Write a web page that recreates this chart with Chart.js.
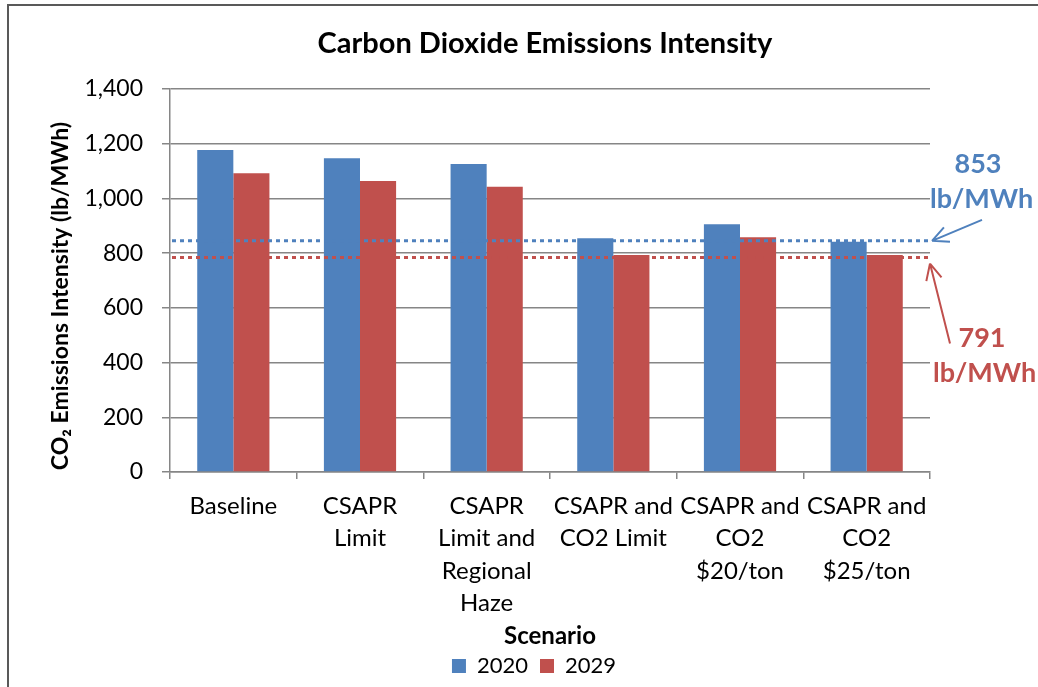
<!DOCTYPE html>
<html><head><meta charset="utf-8">
<script src="https://cdn.jsdelivr.net/npm/chart.js@4"></script>
<style>html,body{margin:0;padding:0;background:#fff}#wrap{width:1038px;height:687px;position:relative}</style>
</head><body><div id="wrap"><canvas id="c"></canvas></div>
<script>
// ---- data ----
const categories = [['Baseline'], ['CSAPR', 'Limit'], ['CSAPR', 'Limit and', 'Regional', 'Haze'], ['CSAPR and', 'CO2 Limit'], ['CSAPR and', 'CO2', '$20/ton'], ['CSAPR and', 'CO2', '$25/ton']];
const seriesNames = ['2020', '2029'];
const values2020 = [1177, 1147, 1126, 854, 906, 842];
const values2029 = [1092, 1064, 1043, 793, 858, 793];
const refLineValues = [845, 784];
const refLabelNumbers = ['853', '791'];
const refLabelUnit = 'lb/MWh';
const yTickLabels = ['0', '200', '400', '600', '800', '1,000', '1,200', '1,400'];
const chartTitle = 'Carbon Dioxide Emissions Intensity';
const yTitle = 'CO\u2082 Emissions Intensity (lb/MWh)';
const xTitle = 'Scenario';

const BLUE = '#4F81BD', RED = '#C0504D', GRID = '#868686';
const FONT = 'Lato';

const overlay = {
  id: 'overlay',
  afterLayout(chart) {
    const t = chart.titleBlock;
    const dxT = 545 - (t.left + t.right) / 2; t.left += dxT; t.right += dxT;
    const l = chart.legend;
    const dxL = 534 - (l.left + l.right) / 2; l.left += dxL; l.right += dxL;
  },
  afterDatasetsDraw(chart) {
    const {ctx, chartArea: a, scales: {y}} = chart;
    const cols = [BLUE, RED];
    ctx.save();
    ctx.lineWidth = 3;
    ctx.setLineDash([4, 4]);
    refLineValues.forEach((v, i) => {
      const py = y.getPixelForValue(v);
      ctx.strokeStyle = cols[i];
      ctx.beginPath(); ctx.moveTo(a.left + 2, py); ctx.lineTo(a.right - 2, py); ctx.stroke();
    });
    ctx.restore();
  },
  afterDraw(chart) {
    const {ctx, chartArea: a, scales: {y}} = chart;
    ctx.save();
    // chart frame (left and top edges visible)
    ctx.strokeStyle = '#595959'; ctx.lineWidth = 2;
    ctx.beginPath(); ctx.moveTo(8, 690); ctx.lineTo(8, 5); ctx.lineTo(1040, 5); ctx.stroke();
    // y axis title (rotated)
    ctx.fillStyle = '#000';
    ctx.translate(61, 296);
    ctx.rotate(-Math.PI / 2);
    ctx.textBaseline = 'middle'; ctx.textAlign = 'center';
    ctx.font = 'bold 23px ' + FONT;
    ctx.fillText(yTitle, 0, 0);
    ctx.setTransform(1, 0, 0, 1, 0, 0);
    // arrows
    const arrow = (x1, y1, x2, y2, color) => {
      ctx.strokeStyle = color; ctx.lineWidth = 2;
      ctx.beginPath(); ctx.moveTo(x1, y1); ctx.lineTo(x2, y2);
      const ang = Math.atan2(y2 - y1, x2 - x1), h = 18;
      for (const s of [-1, 1]) {
        ctx.moveTo(x2, y2);
        ctx.lineTo(x2 - h * Math.cos(ang + s * 0.45), y2 - h * Math.sin(ang + s * 0.45));
      }
      ctx.stroke();
    };
    const yb = y.getPixelForValue(refLineValues[0]);
    const yr = y.getPixelForValue(refLineValues[1]);
    arrow(a.right + 52, yb - 21, a.right + 2, yb, BLUE);
    arrow(a.right + 20, yr + 86, a.right, yr + 6, RED);
    // labels
    ctx.font = 'bold 27px ' + FONT;
    ctx.textBaseline = 'middle';
    ctx.fillStyle = BLUE;
    ctx.textAlign = 'center'; ctx.fillText(refLabelNumbers[0], a.right + 48, yb - 77);
    ctx.textAlign = 'left'; ctx.fillText(refLabelUnit, a.right, yb - 42);
    ctx.fillStyle = RED;
    ctx.textAlign = 'center'; ctx.fillText(refLabelNumbers[1], a.right + 52, yr + 81);
    ctx.textAlign = 'left'; ctx.fillText(refLabelUnit, a.right + 3, yr + 116);
    ctx.restore();
  }
};

new Chart(document.getElementById('c'), {
  type: 'bar',
  data: {
    labels: categories,
    datasets: [
      {label: seriesNames[0], data: values2020, backgroundColor: BLUE, categoryPercentage: 0.57, barPercentage: 1.0},
      {label: seriesNames[1], data: values2029, backgroundColor: RED, categoryPercentage: 0.57, barPercentage: 1.0}
    ]
  },
  options: {
    responsive: true, maintainAspectRatio: false, animation: false,
    layout: {padding: {left: 20, right: 108, top: 8, bottom: 0}},
    plugins: {
      title: {display: true, text: chartTitle, color: '#000', font: {family: FONT, size: 29, weight: 'bold', lineHeight: 1.2}, padding: {top: 18, bottom: 28.2}},
      legend: {position: 'bottom', labels: {color: '#000', font: {family: FONT, size: 22}, boxWidth: 14, boxHeight: 14, padding: 12}},
      tooltip: {enabled: false}
    },
    scales: {
      x: {
        grid: {display: true, drawOnChartArea: false, drawTicks: true, tickLength: 7, color: GRID, lineWidth: 1.5, offset: true},
        border: {display: true, color: GRID, width: 1.5},
        ticks: {color: '#000', font: {family: FONT, size: 24, lineHeight: 1.354}, padding: 11, maxRotation: 0, autoSkip: false},
        title: {display: true, text: xTitle, color: '#000', font: {family: FONT, size: 24, weight: 'bold', lineHeight: 0.6}, padding: {top: 0, bottom: 0}},
        afterFit(s) { s.height = 171; }
      },
      y: {
        min: 0, max: 1400,
        grid: {color: GRID, lineWidth: 1.5, tickLength: 8},
        border: {display: true, color: GRID, width: 1.5},
        ticks: {stepSize: 200, color: '#000', font: {family: FONT, size: 23}, padding: 19, callback: (v, i) => yTickLabels[i]},
        title: {display: false},
        afterFit(s) { s.width = 150; }
      }
    }
  },
  plugins: [overlay]
});
</script></body></html>
